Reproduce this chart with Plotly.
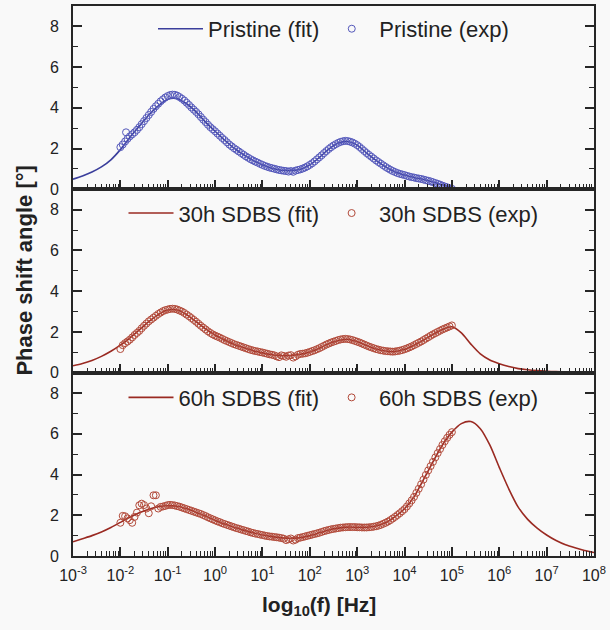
import plotly.graph_objects as go
from plotly.subplots import make_subplots

# ---------------- data (log10 of frequency in Hz) ----------------
# experimental sweep: log10(f) from -2.00 to 5.00 in steps of 0.05
EXP_START, EXP_STEP = -2.0, 0.05

PRISTINE_EXP = [
    2.07, 2.2, 2.35, 2.48, 2.6, 2.7, 2.8, 2.92, 3.05, 3.2,
    3.35, 3.5, 3.65, 3.8, 3.95, 4.08, 4.2, 4.32, 4.42, 4.51,
    4.58, 4.63, 4.65, 4.64, 4.6, 4.53, 4.45, 4.36, 4.25, 4.14,
    4.02, 3.91, 3.8, 3.68, 3.55, 3.42, 3.3, 3.17, 3.05, 2.95,
    2.85, 2.74, 2.63, 2.52, 2.42, 2.31, 2.2, 2.11, 2.02, 1.94,
    1.86, 1.78, 1.7, 1.62, 1.55, 1.48, 1.42, 1.36, 1.31, 1.25,
    1.2, 1.15, 1.11, 1.07, 1.04, 1.01, 0.98, 0.95, 0.93, 0.91,
    0.9, 0.87, 0.9, 0.86, 0.92, 0.95, 0.98, 1.02, 1.07, 1.13,
    1.2, 1.28, 1.37, 1.47, 1.57, 1.67, 1.78, 1.88, 1.98, 2.07,
    2.15, 2.22, 2.28, 2.33, 2.36, 2.38, 2.37, 2.34, 2.3, 2.24,
    2.17, 2.08, 1.98, 1.88, 1.78, 1.69, 1.6, 1.51, 1.42, 1.34,
    1.26, 1.18, 1.1, 1.03, 0.96, 0.9, 0.85, 0.8, 0.76, 0.73,
    0.7, 0.66, 0.63, 0.6, 0.58, 0.55, 0.53, 0.51, 0.48, 0.45,
    0.42, 0.39, 0.35, 0.31, 0.27, 0.23, 0.18, 0.14, 0.1, 0.06,
    0.03]
PRISTINE_EXTRA_X = [-1.88]
PRISTINE_EXTRA_Y = [2.8]

SDBS30_EXP = [
    1.16, 1.35, 1.45, 1.53, 1.62, 1.73, 1.85, 1.95, 2.05, 2.18,
    2.3, 2.41, 2.52, 2.61, 2.7, 2.79, 2.88, 2.95, 3.02, 3.07,
    3.1, 3.13, 3.14, 3.13, 3.1, 3.05, 3.0, 2.93, 2.85, 2.77,
    2.68, 2.59, 2.5, 2.4, 2.3, 2.21, 2.12, 2.03, 1.95, 1.88,
    1.82, 1.77, 1.72, 1.66, 1.6, 1.55, 1.5, 1.45, 1.4, 1.36,
    1.32, 1.28, 1.24, 1.2, 1.16, 1.12, 1.09, 1.06, 1.04, 1.01,
    0.99, 0.96, 0.93, 0.9, 0.88, 0.85, 0.8, 0.76, 0.85, 0.82,
    0.78, 0.84, 0.86, 0.74, 0.8, 0.88, 0.92, 0.93, 0.95, 0.98,
    1.02, 1.06, 1.1, 1.15, 1.2, 1.26, 1.32, 1.38, 1.43, 1.48,
    1.52, 1.56, 1.6, 1.63, 1.65, 1.66, 1.65, 1.63, 1.6, 1.56,
    1.52, 1.48, 1.43, 1.38, 1.33, 1.28, 1.24, 1.2, 1.16, 1.13,
    1.1, 1.08, 1.06, 1.05, 1.04, 1.03, 1.04, 1.06, 1.08, 1.11,
    1.15, 1.19, 1.24, 1.29, 1.35, 1.41, 1.47, 1.53, 1.6, 1.67,
    1.74, 1.81, 1.88, 1.94, 2.0, 2.06, 2.12, 2.17, 2.22, 2.27,
    2.32]

SDBS60_EXP = [
    1.63, 1.97, 1.95, 1.85, 1.76, 1.63, 1.92, 2.13, 2.49, 2.57,
    2.5, 2.33, 2.1, 2.44, 2.98, 2.98, 2.33, 2.41, 2.43, 2.46,
    2.5, 2.51, 2.5, 2.48, 2.45, 2.42, 2.38, 2.34, 2.3, 2.26,
    2.22, 2.18, 2.14, 2.1, 2.06, 2.01, 1.96, 1.9, 1.85, 1.8,
    1.75, 1.7, 1.66, 1.61, 1.57, 1.53, 1.49, 1.45, 1.41, 1.37,
    1.34, 1.3, 1.27, 1.23, 1.2, 1.16, 1.13, 1.1, 1.08, 1.05,
    1.03, 1.0, 0.98, 0.96, 0.95, 0.93, 0.92, 0.9, 0.88, 0.85,
    0.78, 0.82, 0.86, 0.76, 0.8, 0.88, 0.9, 0.93, 0.96, 0.99,
    1.02, 1.05, 1.08, 1.11, 1.14, 1.18, 1.22, 1.25, 1.28, 1.31,
    1.33, 1.35, 1.37, 1.39, 1.4, 1.41, 1.42, 1.42, 1.42, 1.42,
    1.41, 1.41, 1.4, 1.4, 1.4, 1.41, 1.42, 1.44, 1.46, 1.49,
    1.53, 1.58, 1.63, 1.69, 1.76, 1.84, 1.92, 2.01, 2.1, 2.2,
    2.3, 2.43, 2.58, 2.73, 2.9, 3.1, 3.3, 3.52, 3.75, 3.98,
    4.2, 4.41, 4.62, 4.84, 5.05, 5.25, 5.45, 5.63, 5.8, 5.95,
    6.08]

# fitted curves: log10(f) from -3.0 to 8.0 in steps of 0.2
LOGF_FIT = [-3.0, -2.8, -2.6, -2.4, -2.2, -2.0, -1.8, -1.6, -1.4, -1.2,
            -1.0, -0.8, -0.6, -0.4, -0.2, 0.0, 0.2, 0.4, 0.6, 0.8,
            1.0, 1.2, 1.4, 1.6, 1.8, 2.0, 2.2, 2.4, 2.6, 2.8,
            3.0, 3.2, 3.4, 3.6, 3.8, 4.0, 4.2, 4.4, 4.6, 4.8,
            5.0, 5.2, 5.4, 5.6, 5.8, 6.0, 6.2, 6.4, 6.6, 6.8,
            7.0, 7.2, 7.4, 7.6, 7.8, 8.0]
PRISTINE_FIT = [0.5, 0.66, 0.85, 1.1, 1.45, 1.95, 2.55, 3.1, 3.65, 4.1,
                4.42, 4.45, 4.2, 3.8, 3.3, 2.85, 2.42, 2.02, 1.7, 1.42,
                1.2, 1.04, 0.94, 0.92, 0.99, 1.2, 1.56, 1.97, 2.27, 2.35,
                2.17, 1.78, 1.42, 1.1, 0.85, 0.7, 0.58, 0.48, 0.36, 0.22,
                0.1, 0.05, 0.03, 0.02, 0.01, 0.0, 0.0, 0.0, 0.0, 0.0,
                0.0, 0.0, 0.0, 0.0, 0.0, 0.0]
SDBS30_FIT = [0.34, 0.45, 0.6, 0.8, 1.05, 1.35, 1.7, 2.1, 2.5, 2.85,
              3.08, 3.08, 2.85, 2.5, 2.15, 1.85, 1.6, 1.4, 1.23, 1.08,
              0.97, 0.88, 0.83, 0.84, 0.9, 1.02, 1.2, 1.42, 1.58, 1.64,
              1.52, 1.33, 1.16, 1.06, 1.04, 1.15, 1.35, 1.6, 1.88, 2.12,
              2.25, 1.95, 1.4, 0.92, 0.62, 0.44, 0.3, 0.2, 0.14, 0.1,
              0.07, 0.05, 0.03, 0.02, 0.01, 0.01]
SDBS60_FIT = [0.7, 0.85, 1.0, 1.18, 1.4, 1.65, 1.9, 2.12, 2.3, 2.42,
              2.47, 2.44, 2.32, 2.15, 1.96, 1.76, 1.57, 1.41, 1.27, 1.14,
              1.03, 0.95, 0.89, 0.87, 0.9, 1.0, 1.14, 1.28, 1.37, 1.42,
              1.41, 1.41, 1.47, 1.63, 1.93, 2.32, 2.9, 3.75, 4.62, 5.45,
              6.08, 6.5, 6.6, 6.25, 5.45, 4.35, 3.3, 2.4, 1.8, 1.37,
              1.03, 0.76, 0.55, 0.4, 0.27, 0.17]

NAMES = [("Pristine (fit)", "Pristine (exp)"),
         ("30h SDBS (fit)", "30h SDBS (exp)"),
         ("60h SDBS (fit)", "60h SDBS (exp)")]
TICK_EXP = [-3, -2, -1, 0, 1, 2, 3, 4, 5, 6, 7, 8]

# ---------------- styling ----------------
FONT = "Liberation Sans, Arial, sans-serif"
BG = "#f9f9f9"
AX = "#262626"
TXT = "#222222"
BLUE_LINE = "#3b3f9c"
BLUE_MK = "#5458bb"
RED_LINE = "#9a2a22"
RED_MK = "#b24a3a"


def exp_x(n):
    return [10 ** (EXP_START + EXP_STEP * i) for i in range(n)]


fig = make_subplots(rows=3, cols=1, shared_xaxes=True, vertical_spacing=0)

series = [
    (PRISTINE_FIT, PRISTINE_EXP, PRISTINE_EXTRA_X, PRISTINE_EXTRA_Y, BLUE_LINE, BLUE_MK),
    (SDBS30_FIT, SDBS30_EXP, [], [], RED_LINE, RED_MK),
    (SDBS60_FIT, SDBS60_EXP, [], [], RED_LINE, RED_MK),
]
legend_ids = ["legend", "legend2", "legend3"]

for i, (fit, exp, ex_x, ex_y, lc, mc) in enumerate(series):
    row = i + 1
    fig.add_trace(go.Scatter(
        x=[10 ** v for v in LOGF_FIT], y=fit, mode="lines", name=NAMES[i][0],
        line=dict(color=lc, width=1.6, shape="spline", smoothing=0.8),
        legend=legend_ids[i]), row=row, col=1)
    fig.add_trace(go.Scatter(
        x=exp_x(len(exp)) + [10 ** v for v in ex_x], y=exp + ex_y,
        mode="markers", name=NAMES[i][1],
        marker=dict(symbol="circle-open", size=7, color=mc, line=dict(width=1.0, color=mc)),
        legend=legend_ids[i]), row=row, col=1)

tickvals = [10 ** e for e in TICK_EXP]
ticktext = ["10<sup>%d</sup>" % e for e in TICK_EXP]

for r in range(1, 4):
    fig.update_xaxes(
        type="log", range=[-3.0, 8.0005], tickmode="array", tickvals=tickvals,
        ticktext=ticktext, showticklabels=(r == 3), ticklabeloverflow="allow",
        ticks="inside", ticklen=9, tickwidth=1.5, tickcolor=AX,
        minor=dict(ticks="inside", ticklen=5, tickwidth=1.2, tickcolor=AX, dtick="D1"),
        showline=True, linecolor=AX, linewidth=2, mirror=True,
        showgrid=False, zeroline=False, ticklabelstandoff=4,
        tickfont=dict(family=FONT, size=16, color=TXT),
        row=r, col=1)
    fig.update_yaxes(
        range=[0, 9], tickmode="linear", tick0=0, dtick=2,
        ticks="inside", ticklen=9, tickwidth=1.5, tickcolor=AX,
        minor=dict(ticks="inside", ticklen=5, tickwidth=1.2, tickcolor=AX, dtick=1),
        showline=True, linecolor=AX, linewidth=2, mirror="ticks",
        showgrid=False, zeroline=False, ticklabelstandoff=9,
        tickfont=dict(family=FONT, size=16, color=TXT),
        row=r, col=1)

leg_common = dict(orientation="h", xanchor="center", x=0.5, yanchor="middle",
                  bgcolor="rgba(0,0,0,0)", font=dict(family=FONT, size=22, color=TXT),
                  itemwidth=45, tracegroupgap=0)
H = 630 - 4 - 74


def ypaper(px):
    return (556 - px) / H


fig.update_layout(
    width=610, height=630,
    margin=dict(l=73, r=10, t=4, b=74),
    paper_bgcolor=BG, plot_bgcolor=BG,
    showlegend=True,
    legend=dict(**leg_common, y=ypaper(27)),
    legend2=dict(**leg_common, y=ypaper(212)),
    legend3=dict(**leg_common, y=ypaper(397)),
    annotations=[
        dict(text="<b>Phase shift angle [°]</b>", textangle=-90, xref="paper", yref="paper",
             x=(23 - 73) / 527, y=ypaper(269), xanchor="center", yanchor="middle",
             showarrow=False, font=dict(family=FONT, size=22, color=TXT)),
        dict(text="<b>log<sub>10</sub>(f) [Hz]</b>", xref="paper", yref="paper",
             x=(322 - 73) / 527, y=ypaper(606), xanchor="center", yanchor="middle",
             showarrow=False, font=dict(family=FONT, size=21, color=TXT)),
    ],
)

fig.write_html("out.html")
